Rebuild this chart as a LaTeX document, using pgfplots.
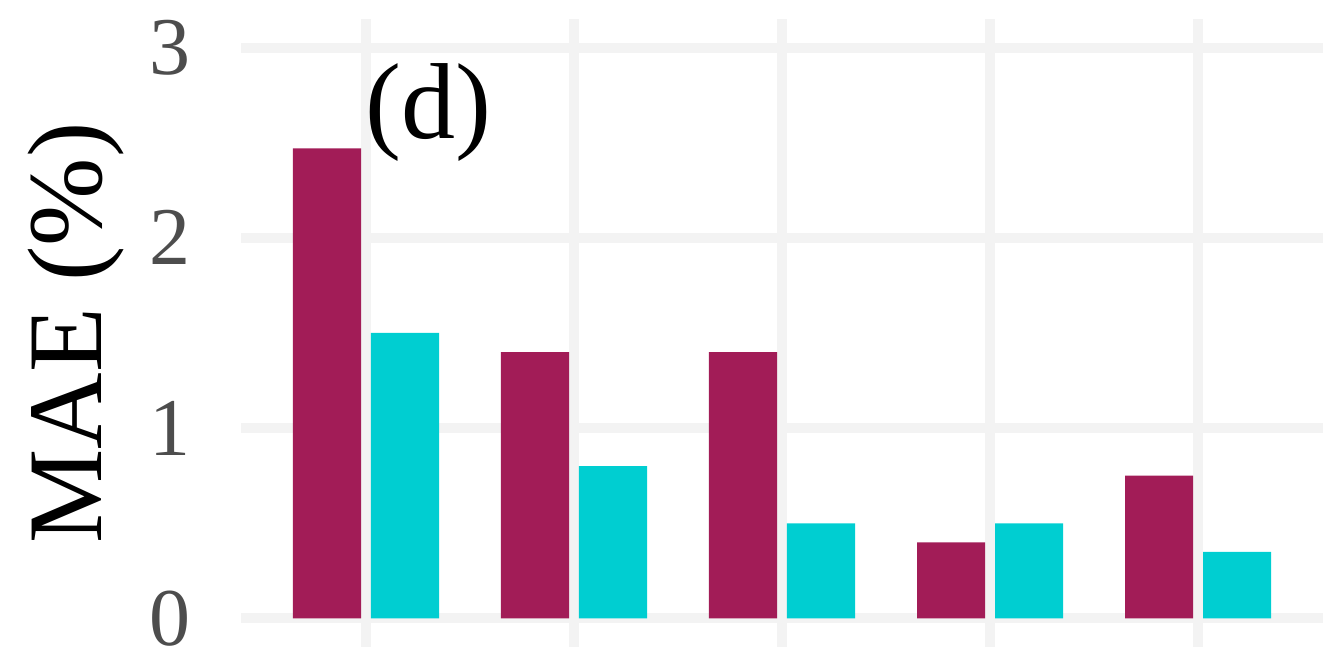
\documentclass[border=0pt]{standalone}
\usepackage{fontspec}
\setmainfont{Liberation Serif}
\usepackage{pgfplots}
\pgfplotsset{compat=1.18}

\definecolor{barmag}{HTML}{A21C57}
\definecolor{barcyan}{HTML}{00CED1}
\definecolor{gridgray}{HTML}{F3F3F3}
\definecolor{tickgray}{HTML}{4D4D4D}

\begin{document}
\begin{tikzpicture}
\begin{axis}[
  scale only axis,
  width=540.8pt,
  height=314pt,
  xmin=-0.6, xmax=4.6,
  ymin=-0.15, ymax=3.15,
  xtick={0,1,2,3,4},
  xticklabels={},
  ytick={0,1,2,3},
  axis line style={draw=none},
  major tick length=0pt,
  xmajorgrids, ymajorgrids,
  grid style={gridgray, line width=5pt},
  /pgf/number format/assume math mode=true,
  yticklabel style={font=\fontsize{41}{41}\selectfont, text=tickgray,
    anchor=east, inner sep=0pt, xshift=-25pt},
  ylabel={MAE (\%)},
  ylabel style={font=\fontsize{53}{53}\selectfont, inner sep=0pt,
    at={(rel axis cs:-0.1082,0.5)}, anchor=south},
  clip=false,
]
% bounding box matching the reference proportions
\path (rel axis cs:-0.2230,-0.01107) rectangle (rel axis cs:1.00851,1.03025);

\addplot[ybar, bar width=0.327, bar shift=-0.1875, fill=barmag, draw=none]
  coordinates {(0,2.47) (1,1.40) (2,1.40) (3,0.40) (4,0.75)};
\addplot[ybar, bar width=0.327, bar shift=0.1875, fill=barcyan, draw=none]
  coordinates {(0,1.50) (1,0.80) (2,0.50) (3,0.50) (4,0.35)};

\node[anchor=base west, inner sep=0pt, font=\fontsize{54}{54}\selectfont]
  at (axis cs:-0.005,2.52) {(d)};
\end{axis}
\end{tikzpicture}
\end{document}
